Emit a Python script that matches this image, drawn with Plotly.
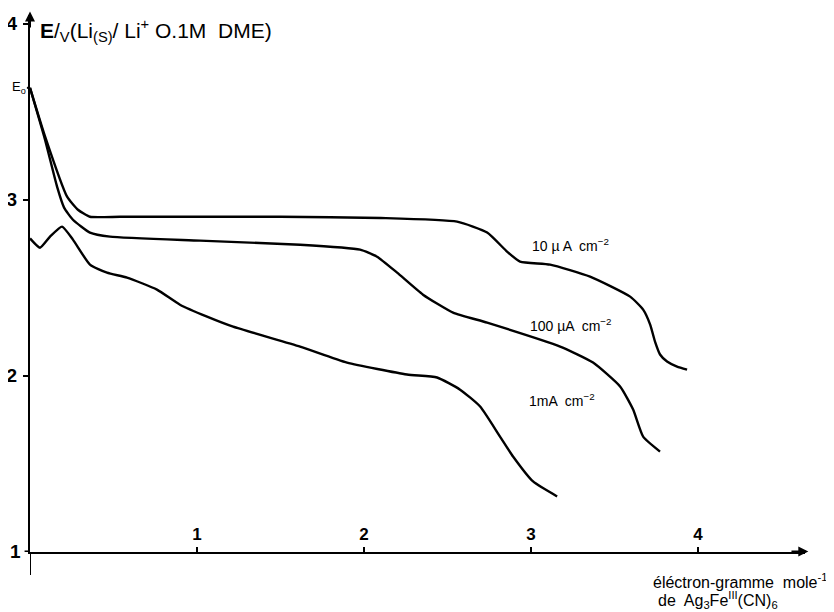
import plotly.graph_objects as go

# Data
x_10uA = [0.0, 0.09, 0.222, 0.287, 0.359, 0.539, 1.0, 1.497, 2.1, 2.557, 2.737, 2.856, 2.934, 3.114, 3.353, 3.593, 3.671, 3.713, 3.743, 3.772, 3.814, 3.874, 3.934]
y_10uA = [3.636, 3.36, 3.017, 2.943, 2.903, 2.903, 2.903, 2.903, 2.896, 2.875, 2.813, 2.705, 2.648, 2.631, 2.563, 2.449, 2.375, 2.29, 2.19, 2.12, 2.080, 2.051, 2.034]

x_100uA = [0.0, 0.09, 0.162, 0.204, 0.257, 0.359, 0.479, 1.018, 1.617, 1.976, 2.078, 2.198, 2.353, 2.533, 2.737, 3.174, 3.371, 3.533, 3.611, 3.671, 3.772]
y_100uA = [3.636, 3.341, 3.074, 2.955, 2.886, 2.813, 2.790, 2.767, 2.744, 2.716, 2.676, 2.585, 2.460, 2.358, 2.301, 2.165, 2.074, 1.938, 1.807, 1.653, 1.568]

x_1mA = [0.0, 0.06, 0.12, 0.192, 0.257, 0.359, 0.461, 0.581, 0.760, 0.898, 1.060, 1.216, 1.617, 1.898, 2.257, 2.437, 2.575, 2.695, 2.814, 2.892, 3.012, 3.156]
y_1mA = [2.78, 2.727, 2.790, 2.847, 2.773, 2.631, 2.585, 2.557, 2.489, 2.403, 2.335, 2.278, 2.165, 2.074, 2.006, 1.989, 1.920, 1.824, 1.653, 1.540, 1.398, 1.313]

x_ticks = [1, 2, 3, 4]
y_ticks = [2, 3, 4]
y_bottom_tick = 1
E0 = 3.636

labels = ["10 µ A  cm<sup>−2</sup>", "100 µA  cm<sup>−2</sup>", "1mA  cm<sup>−2</sup>"]
label_x = [2.994, 2.982, 2.976]
label_y = [2.744, 2.29, 1.864]

fig = go.Figure()
for xs, ys in [(x_10uA, y_10uA), (x_100uA, y_100uA), (x_1mA, y_1mA)]:
    fig.add_trace(go.Scatter(x=xs, y=ys, mode="lines",
                             line=dict(color="black", width=2.4, shape="spline", smoothing=0.5),
                             hoverinfo="skip", showlegend=False))

font_main = "Liberation Sans, Arial, sans-serif"

fig.update_layout(
    width=826, height=604,
    margin=dict(l=22, r=29, t=7, b=60, autoexpand=False),
    paper_bgcolor="white", plot_bgcolor="white",
    showlegend=False,
    xaxis=dict(range=[0, 4.64], showgrid=False, zeroline=False, automargin=False,
               showline=True, linecolor="black", linewidth=2,
               tickmode="array", tickvals=x_ticks,
               ticktext=[f"<b>{v}</b>" for v in x_ticks],
               ticks="inside", ticklen=5, tickwidth=2, tickcolor="black",
               ticklabelposition="inside", ticklabelstandoff=4,
               tickfont=dict(family=font_main, size=17, color="black")),
    yaxis=dict(range=[0.997, 4.05], showgrid=False, zeroline=False, automargin=False,
               showline=True, linecolor="black", linewidth=2,
               tickmode="array", tickvals=y_ticks,
               ticktext=[f"<b>{v}</b>" for v in y_ticks],
               ticks="outside", ticklen=5, tickwidth=2, tickcolor="black",
               ticklabelstandoff=2,
               tickfont=dict(family=font_main, size=19, color="black")),
)

# y axis extension below the x axis
fig.add_shape(type="line", xref="x", yref="paper", x0=0, x1=0, y0=0, y1=-0.043,
              line=dict(color="black", width=2))
# bottom y tick (value 1) and its label
fig.add_shape(type="line", xref="paper", yref="y", x0=-0.007, x1=0.0,
              y0=y_bottom_tick, y1=y_bottom_tick, line=dict(color="black", width=2))
fig.add_annotation(xref="paper", yref="y", x=-0.009, y=y_bottom_tick,
                   text=f"<b>{y_bottom_tick}</b>", showarrow=False,
                   xanchor="right", yanchor="middle",
                   font=dict(family=font_main, size=19, color="black"))
# E0 tick
fig.add_shape(type="line", xref="paper", yref="y", x0=-0.004, x1=0.0, y0=E0, y1=E0,
              line=dict(color="black", width=2))
fig.add_annotation(xref="paper", yref="y", x=-0.003, y=E0, text="E<sub>o</sub>",
                   showarrow=False, xanchor="right", yanchor="middle",
                   font=dict(family=font_main, size=13, color="black"))

# Arrowheads
fig.add_annotation(xref="x", yref="y", x=4.66, y=1, ax=4.55, ay=1, axref="x", ayref="y",
                   showarrow=True, arrowhead=2, arrowsize=1, arrowwidth=2, arrowcolor="black", text="")
fig.add_annotation(xref="x", yref="y", x=0, y=4.07, ax=0, ay=3.97, axref="x", ayref="y",
                   showarrow=True, arrowhead=2, arrowsize=1, arrowwidth=2, arrowcolor="black", text="")

# Y axis title
fig.add_annotation(xref="paper", yref="paper", x=(38 - 30) / 775, y=(552 - 30) / 537,
                   text="<b>E</b>/<sub>V</sub>(Li<sub>(S)</sub>/ Li<sup>+</sup> O.1M  DME)",
                   showarrow=False, xanchor="left", yanchor="middle",
                   font=dict(family=font_main, size=21, color="black"))

# X axis title
fig.add_annotation(xref="paper", yref="paper", x=(829 - 30) / 775, y=(552 - 581) / 537,
                   text="éléctron-gramme  mole<sup>-1</sup>",
                   showarrow=False, xanchor="right", yanchor="middle",
                   font=dict(family=font_main, size=16, color="black"))
fig.add_annotation(xref="paper", yref="paper", x=(718 - 30) / 775, y=(552 - 600) / 537,
                   text="de  Ag<sub>3</sub>Fe<sup>III</sup>(CN)<sub>6</sub>",
                   showarrow=False, xanchor="center", yanchor="middle",
                   font=dict(family=font_main, size=16, color="black"))

# Curve labels
for t, lx, ly in zip(labels, label_x, label_y):
    fig.add_annotation(xref="x", yref="y", x=lx, y=ly, text=t, showarrow=False,
                       xanchor="left", yanchor="middle",
                       font=dict(family=font_main, size=14, color="black"))

fig.write_html("out.html")
